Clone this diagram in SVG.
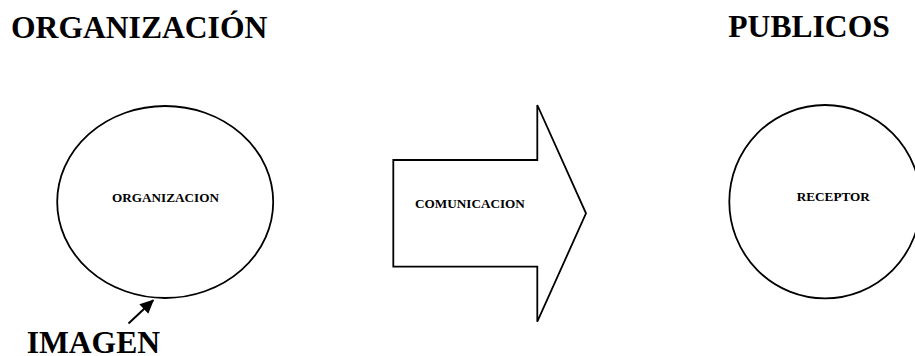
<svg xmlns="http://www.w3.org/2000/svg" width="915" height="356" viewBox="0 0 915 356">
  <style>
    text { font-family: "Liberation Serif", "Times New Roman", serif; font-weight: bold; fill: #000; }
    .title { font-size: 31.6px; }
    .label { font-size: 13.2px; }
    .shape { fill: #fff; stroke: #000; stroke-width: 1.8; }
    .conn { stroke: #000; stroke-width: 2; fill: none; }
  </style>
  <defs>
    <marker id="arrowhead" viewBox="0 0 14 13" refX="13" refY="6.5" markerWidth="14" markerHeight="13" markerUnits="userSpaceOnUse" orient="auto">
      <path d="M0,0 L14,6.5 L0,13 Z" fill="#000"/>
    </marker>
  </defs>
  <rect width="915" height="356" fill="#fff"/>

  <text class="title" x="11" y="37.7">ORGANIZACIÓN</text>
  <text class="title" x="728.3" y="36.7">PUBLICOS</text>

  <g id="organizacion">
    <ellipse class="shape" cx="165.2" cy="202" rx="108" ry="96"/>
    <text class="label" x="165.5" y="201.7" text-anchor="middle">ORGANIZACION</text>
  </g>

  <g id="comunicacion">
    <polygon class="shape" points="393.3,160 537.3,160 537.3,105 586,213.3 537.3,321.7 537.3,266.7 393.3,266.7"/>
    <text class="label" x="415" y="208.3">COMUNICACION</text>
  </g>

  <g id="receptor">
    <ellipse class="shape" cx="825" cy="201.7" rx="95.7" ry="96.7"/>
    <text class="label" x="833.3" y="200.7" text-anchor="middle">RECEPTOR</text>
  </g>

  <g id="imagen">
    <text class="title" x="26.7" y="352.7">IMAGEN</text>
  </g>

  <g id="connectors">
    <line class="conn" x1="128.5" y1="323.5" x2="153.3" y2="300.2" marker-end="url(#arrowhead)"/>
  </g>
</svg>
